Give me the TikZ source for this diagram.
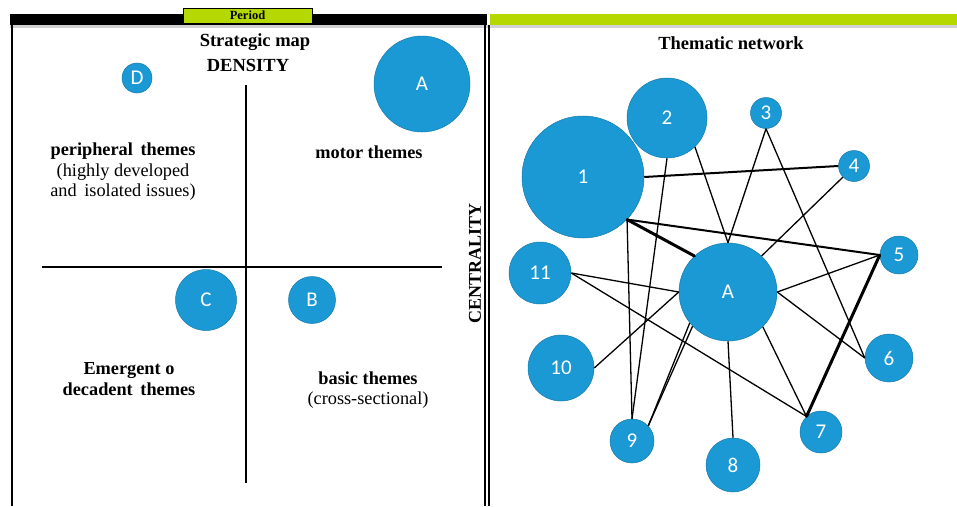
\documentclass[tikz,border=0pt]{standalone}
\usepackage{fontspec}
\setmainfont{Liberation Serif}
\newfontfamily\labelfont{Carlito}
\usetikzlibrary{positioning}

\definecolor{themeblue}{HTML}{1B99D4}
\definecolor{periodgreen}{HTML}{B5D900}

\begin{document}
\begin{tikzpicture}[x=1pt, y=-1pt,
        node_style/.style={circle,draw=themeblue!80!black,line width=0.5pt,fill=themeblue,text=white,inner sep=0pt,font=\labelfont\fontsize{21}{21}\selectfont},
        head_style/.style={font=\bfseries\fontsize{18.5}{20}\selectfont},
        text_style/.style={align=center,font=\fontsize{18.3}{20.5}\selectfont},
        edge_style/.style={draw=black, line width=1.3pt},
        mid_edge_style/.style={draw=black, line width=2pt},
        heavy_edge_style/.style={draw=black, line width=3pt, line cap=round}]

        \useasboundingbox (0,0) rectangle (957,506);

        % header bars and panel frames
        \fill [gray!35] (10,25) rectangle (957,27.5);
        \fill [black] (10,14) rectangle (487,25);
        \fill [periodgreen] (490,14) rectangle (957,25);
        \draw [line width=0.8pt, fill=periodgreen] (183,8) rectangle (312,23);
        \node [font=\bfseries\fontsize{12.5}{12}\selectfont](period_label) at (247.5,15.5) {Period};

        \draw [line width=1.3pt] (12,25) -- (12,506);
        \draw [line width=1.3pt] (485,25) -- (485,506);
        \draw [line width=1.3pt] (489,25) -- (489,506);

        % strategic map
        \draw [line width=1.6pt] (246,85) -- (246,483);
        \draw [line width=1.6pt] (42,267) -- (442,267);

        \node [head_style](title_map) at (255,42) {Strategic map};
        \node [head_style](density_label) at (248,65) {DENSITY};
        \node [head_style,font=\bfseries\fontsize{18}{20}\selectfont,rotate=90](centrality_label) at (475,263) {CENTRALITY};

        \node [text_style](peripheral_text) at (123,172) {\textbf{peripheral\, themes}\\(highly developed\\and\, isolated issues)};
        \node [text_style](motor_text) at (369,152) {\textbf{motor themes}};
        \node [text_style](emergent_text) at (129,379) {\textbf{Emergent o}\\\textbf{decadent\, themes}};
        \node [text_style](basic_text) at (368,390) {\textbf{basic themes}\\(cross-sectional)};

        \node [node_style,minimum size=30pt](mD) at (137,78) {D};

        \node [node_style,minimum size=96pt](mA) at (422,84) {A};

        \node [node_style,minimum size=61pt](mC) at (206,300) {C};

        \node [node_style,minimum size=47pt](mB) at (312,300) {B};

        % thematic network
        \node [head_style](network_title) at (731,43) {Thematic network};

        \node [node_style,minimum size=122pt](n1) at (583,177) {1};

        \node [node_style,minimum size=80pt](n2) at (667,118) {2};

        \node [node_style,minimum size=31pt](n3) at (766,113) {3};

        \node [node_style,minimum size=31pt](n4) at (854,166) {4};

        \node [node_style,minimum size=38pt](n5) at (899,255) {5};

        \node [node_style,minimum size=48pt](n6) at (889,358) {6};

        \node [node_style,minimum size=42pt](n7) at (821,432) {7};

        \node [node_style,minimum size=54pt](n8) at (733,465) {8};

        \node [node_style,minimum size=44pt](n9) at (632,441) {9};

        \node [node_style,minimum size=66pt](n10) at (561,368) {10};

        \node [node_style,minimum size=62pt](n11) at (540,273) {11};

        \node [node_style,minimum size=98pt](nA) at (728,292) {A};

        \draw [heavy_edge_style] (n1.-44) edge (nA.133);

        \draw [mid_edge_style] (n1.-44) edge (n5.180);

        \draw [edge_style] (n1.-44) edge (n9.90);

        \draw [mid_edge_style] (n1.0) edge (n4.180);

        \draw [edge_style] (n2.-90) edge (n9.90);

        \draw [edge_style] (n2.-46) edge (nA.90);

        \draw [edge_style] (n3.-90) edge (nA.90);

        \draw [edge_style] (n3.-90) edge (n6.180);

        \draw [edge_style] (n4.225) edge (nA.47);

        \draw [edge_style] (n5.180) edge (nA.0);

        \draw [heavy_edge_style] (n5.180) edge (n7.133);

        \draw [edge_style] (nA.0) edge (n6.180);

        \draw [edge_style] (nA.-45) edge (n7.133);

        \draw [edge_style] (nA.-90) edge (n8.90);

        \draw [edge_style] (nA.219) edge (n9.43);

        \draw [edge_style] (nA.224) edge (n9.43);

        \draw [edge_style] (nA.180) edge (n10.0);

        \draw [edge_style] (n11.0) edge (nA.180);

        \draw [edge_style] (n11.0) edge (n7.133);

        \end{tikzpicture}
\end{document}
